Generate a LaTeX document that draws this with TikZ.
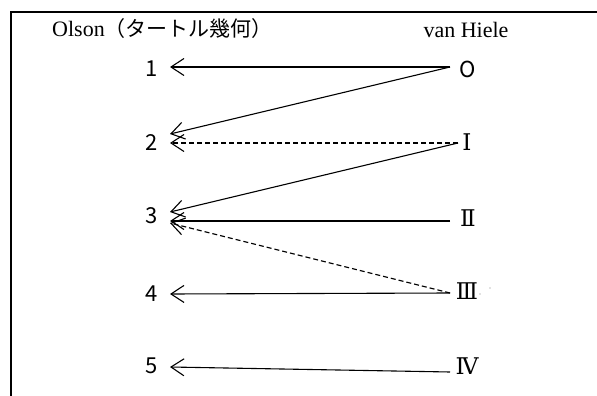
\documentclass[tikz,border=0pt]{standalone}
\usepackage{fontspec}
\setmainfont{Liberation Serif}
\newfontfamily\jpfont{Noto Sans CJK JP}
\newfontfamily\romfont{DejaVu Serif}
\usetikzlibrary{arrows.meta,positioning}

\tikzset{
  link/.style={-{Straight Barb[length=13pt,width=17pt]}, line width=1.1pt},
  weak/.style={link, dash pattern=on 5pt off 3pt},
  num/.style={inner sep=0pt, font=\jpfont\fontsize{22}{24}\selectfont},
  lvl/.style={inner sep=0pt, font=\romfont\fontsize{23}{25}\selectfont},
}

\begin{document}
\begin{tikzpicture}[x=1pt,y=-1pt]
\useasboundingbox (0,0) rectangle (597,396);

%=== frame (left and top edges only) ===
\draw[line width=1.8pt] (11,396) -- (11,12) -- (597,12);

%=== headings ===
\node[anchor=base west,inner sep=0pt] (olson) at (52,37)
  {\fontsize{22}{24}\selectfont Olson\jpfont\fontsize{21}{24}\selectfont（タートル幾何）};
\node[anchor=base,inner sep=0pt] (hiele) at (466,38)
  {\fontsize{22}{24}\selectfont van Hiele};

%=== arrow tips (left) and line ends (right) ===
\coordinate (t1)  at (170,67);
\coordinate (t2a) at (170,134);
\coordinate (t2)  at (170,143);
\coordinate (t3a) at (170,212);
\coordinate (t3)  at (170,221);
\coordinate (t3b) at (170,223);
\coordinate (t4)  at (170,294);
\coordinate (t5)  at (170,367);
\coordinate (s0)  at (450,67);
\coordinate (s1)  at (458,143);
\coordinate (s2)  at (450,221);
\coordinate (s3)  at (450,293);
\coordinate (s4)  at (450,372);

%=== Olson stages ===
\foreach \i/\y in {1/69,2/143,3/216,4/294,5/366}
  \node[num] (n\i) at (152,\y) {\i};

%=== van Hiele levels ===
\node[num] (v0) at (468,69)  {O};
\node[lvl] (v1) at (467,142) {Ⅰ};
\node[lvl] (v2) at (468,218) {Ⅱ};
\node[lvl] (v3) at (467,291) {Ⅲ};
\node[lvl] (v4) at (467,366) {Ⅳ};
\fill[gray] (480,294) circle (0.6pt) (490,288) circle (0.6pt);

%=== correspondences ===
\draw[link] (s0) -- (t1);
\draw[link] (s0) -- (t2a);
\draw[weak] (s1) -- (t2);
\draw[link] (s1) -- (t3a);
\draw[link] (s2) -- (t3);
\draw[weak] (s3) -- (t3b);
\draw[link] (s3) -- (t4);
\draw[link] (s4) -- (t5);

\end{tikzpicture}
\end{document}
